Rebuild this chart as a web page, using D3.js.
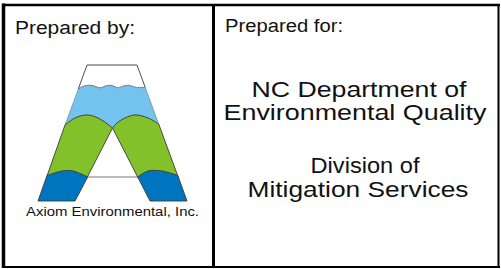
<!DOCTYPE html>
<html>
<head>
<meta charset="utf-8">
<script src="https://cdn.jsdelivr.net/npm/d3@7"></script>
<style>
  body { margin: 0; background: #fff; }
</style>
</head>
<body>
<svg id="block" width="501" height="269" font-family="Liberation Sans, Arial, Helvetica, sans-serif"></svg>
<script>
// text content
const leftTitle = "Prepared by:"
const rightTitle = "Prepared for:"
const firmName = "Axiom Environmental, Inc."
const clientLines = ["NC Department of", "Environmental Quality", "Division of", "Mitigation Services"]
const clientWidths = [215, 263, 109, 221]

// logo outline, in logo units (0..149 wide, 0..136 tall)
const outerA = [[49, 0], [99, 0], [149, 136], [0, 136]]
const innerApex = [74.5, 63]
const crossY = 112
const wave = [[40.3, 24], [46, 21.2], [52, 20.3], [57, 21.5], [62, 23], [67, 21.3], [72, 20.3], [76, 21.5], [80.3, 23], [85, 21.3], [90.3, 20.3], [94.5, 21.5], [98.7, 22.6], [107.2, 22.3]]
const leftArch = [[27, 60], [37, 53], [50, 50], [62, 54], [70, 59.5], [74.5, 63]]
const rightArch = [[74.5, 63], [79, 58], [87, 53], [97, 50], [110, 53], [120.7, 59]]
const leftFootTop = [[9, 110.5], [24, 106], [35, 106], [49.7, 112]]
const rightFootTop = [[99.7, 112], [110, 106], [124, 106], [139.8, 110.5]]

const svg = d3.select("#block")

// logo scales
var x = d3.scaleLinear().domain([0, 149]).range([38, 187])
var y = d3.scaleLinear().domain([0, 136]).range([65, 201])

function xL(v) { return 49 - 49 * v / 136 }
function xR(v) { return 99 + 50 * v / 136 }
function xiL(v) { return innerApex[0] - 37.5 * (v - innerApex[1]) / 73 }
function xiR(v) { return innerApex[0] + 37.5 * (v - innerApex[1]) / 73 }

const straight = d3.line().x(d => x(d[0])).y(d => y(d[1]))
const smooth = d3.line().x(d => x(d[0])).y(d => y(d[1])).curve(d3.curveCatmullRom)

function joinPath(parts) {
   // each part: [points, curved?]; glue them into one closed path
   var d = ""
   parts.forEach(function(p, i) {
      var s = (p[1] ? smooth : straight)(p[0])
      d += i == 0 ? s : s.replace(/^M/, "L")
   })
   return d + "Z"
}

const logo = svg.append("g")
const stroke = "#3a3a3a"

// white top
logo.append("path")
   .attr("d", joinPath([[[outerA[0], outerA[1]], false], [wave.slice().reverse(), true]]))
   .attr("fill", "#fff").attr("stroke", stroke).attr("stroke-width", 0.9)

// light blue band
logo.append("path")
   .attr("d", joinPath([[wave, true], [rightArch.slice().reverse(), true], [leftArch.slice().reverse(), true]]))
   .attr("fill", "#74c3ef").attr("stroke", "#7a8a96").attr("stroke-width", 0.7)

// green legs
logo.append("path")
   .attr("d", joinPath([[leftArch, true], [[[xiL(crossY), crossY], [xL(crossY), crossY]], false]]))
   .attr("fill", "#83c12a").attr("stroke", stroke).attr("stroke-width", 0.9)
logo.append("path")
   .attr("d", joinPath([[rightArch, true], [[[xR(crossY), crossY], [xiR(crossY), crossY]], false]]))
   .attr("fill", "#83c12a").attr("stroke", stroke).attr("stroke-width", 0.9)

// crossbar
logo.append("path")
   .attr("d", straight([[xiL(crossY), crossY], [xiR(crossY), crossY]]))
   .attr("stroke", "#666").attr("stroke-width", 0.9)

// dark blue feet
logo.append("path")
   .attr("d", joinPath([[leftFootTop, true], [[[xiL(136), 136], outerA[3]], false]]))
   .attr("fill", "#0075bf").attr("stroke", stroke).attr("stroke-width", 0.9)
logo.append("path")
   .attr("d", joinPath([[rightFootTop, true], [[outerA[2], [xiR(136), 136]], false]]))
   .attr("fill", "#0075bf").attr("stroke", stroke).attr("stroke-width", 0.9)

// frame
svg.append("line").attr("x1", 3.5).attr("x2", 3.5).attr("y1", 3.5).attr("y2", 268)
   .attr("stroke", "#000").attr("stroke-width", 3.5)
svg.append("line").attr("x1", 2).attr("x2", 500).attr("y1", 5).attr("y2", 5)
   .attr("stroke", "#000").attr("stroke-width", 2.5)
svg.append("line").attr("x1", 498.5).attr("x2", 498.5).attr("y1", 4).attr("y2", 268)
   .attr("stroke", "#000").attr("stroke-width", 2)
svg.append("line").attr("x1", 2).attr("x2", 500).attr("y1", 267).attr("y2", 267)
   .attr("stroke", "#000").attr("stroke-width", 2)
svg.append("line").attr("x1", 213.5).attr("x2", 213.5).attr("y1", 4).attr("y2", 268)
   .attr("stroke", "#000").attr("stroke-width", 3)

// texts
svg.append("text").attr("x", 15).attr("y", 33.5).attr("font-size", 18)
   .attr("fill", "#111")
   .attr("textLength", 120).attr("lengthAdjust", "spacingAndGlyphs").text(leftTitle)
svg.append("text").attr("x", 225).attr("y", 31.5).attr("font-size", 18)
   .attr("fill", "#111")
   .attr("textLength", 118).attr("lengthAdjust", "spacingAndGlyphs").text(rightTitle)
svg.append("text").attr("x", 112.5).attr("y", 216).attr("font-size", 12.5)
   .attr("fill", "#111").attr("text-anchor", "middle")
   .attr("textLength", 173).attr("lengthAdjust", "spacingAndGlyphs").text(firmName)

const lineY = [97, 119.5, 173, 196.5]
const lineX = [359, 355, 365, 358]
svg.append("g").selectAll("text").data(clientLines).enter().append("text")
   .attr("x", (d, i) => lineX[i])
   .attr("y", (d, i) => lineY[i])
   .attr("font-size", 22.5)
   .attr("fill", "#111")
   .attr("text-anchor", "middle")
   .attr("textLength", (d, i) => clientWidths[i])
   .attr("lengthAdjust", "spacingAndGlyphs")
   .text(d => d)
</script>
</body>
</html>
